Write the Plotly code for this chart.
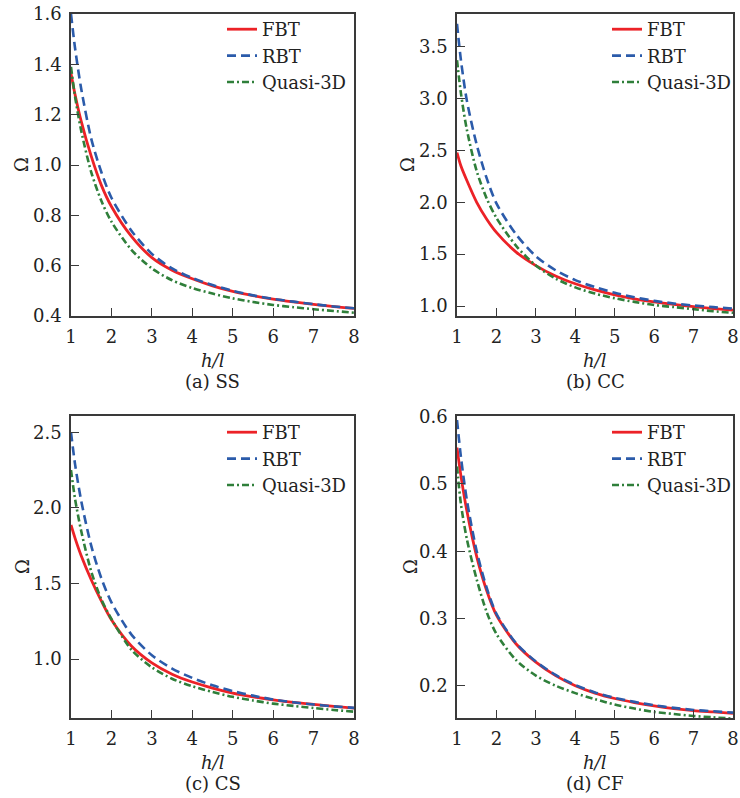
import plotly.graph_objects as go

# ---------------- data ----------------
x_hl = [1, 1.1, 1.25, 1.5, 1.75, 2, 2.5, 3, 3.5, 4, 4.5, 5, 5.5, 6, 6.5, 7, 7.5, 8]

a_fbt = [1.364, 1.28, 1.175, 1.035, 0.92, 0.835, 0.715, 0.632, 0.582, 0.548, 0.52, 0.498, 0.481, 0.467, 0.456, 0.446, 0.437, 0.43]
a_rbt = [1.60, 1.465, 1.305, 1.105, 0.972, 0.87, 0.738, 0.647, 0.589, 0.551, 0.523, 0.5, 0.482, 0.468, 0.457, 0.447, 0.438, 0.431]
a_q3d = [1.39, 1.272, 1.138, 0.972, 0.858, 0.775, 0.662, 0.589, 0.542, 0.511, 0.489, 0.47, 0.456, 0.444, 0.435, 0.427, 0.42, 0.413]

b_fbt = [2.48, 2.35, 2.21, 2.0, 1.84, 1.71, 1.52, 1.39, 1.29, 1.215, 1.155, 1.108, 1.07, 1.04, 1.015, 0.994, 0.976, 0.96]
b_rbt = [3.72, 3.37, 2.98, 2.555, 2.235, 1.99, 1.69, 1.48, 1.345, 1.25, 1.183, 1.127, 1.085, 1.05, 1.025, 1.005, 0.99, 0.975]
b_q3d = [3.37, 3.05, 2.7, 2.3, 2.04, 1.85, 1.58, 1.39, 1.265, 1.18, 1.12, 1.075, 1.04, 1.01, 0.99, 0.97, 0.95, 0.935]

c_fbt = [1.887, 1.80, 1.685, 1.525, 1.385, 1.26, 1.085, 0.975, 0.9, 0.848, 0.808, 0.775, 0.75, 0.73, 0.713, 0.70, 0.687, 0.675]
c_rbt = [2.5, 2.29, 2.05, 1.75, 1.535, 1.375, 1.16, 1.025, 0.937, 0.875, 0.826, 0.788, 0.758, 0.733, 0.714, 0.699, 0.687, 0.677]
c_q3d = [2.25, 2.06, 1.85, 1.58, 1.395, 1.265, 1.06, 0.945, 0.87, 0.82, 0.782, 0.75, 0.726, 0.705, 0.69, 0.676, 0.663, 0.652]

d_fbt = [0.554, 0.512, 0.46, 0.392, 0.342, 0.305, 0.262, 0.235, 0.215, 0.2, 0.189, 0.181, 0.175, 0.17, 0.166, 0.163, 0.161, 0.159]
d_rbt = [0.595, 0.54, 0.476, 0.4, 0.346, 0.307, 0.263, 0.236, 0.216, 0.201, 0.19, 0.182, 0.176, 0.171, 0.167, 0.164, 0.162, 0.16]
d_q3d = [0.526, 0.47, 0.418, 0.358, 0.31, 0.277, 0.238, 0.215, 0.2, 0.189, 0.18, 0.172, 0.166, 0.161, 0.158, 0.155, 0.153, 0.151]

series_names = ["FBT", "RBT", "Quasi-3D"]
panel_captions = ["(a) SS", "(b) CC", "(c) CS", "(d) CF"]
panel_data = [(a_fbt, a_rbt, a_q3d), (b_fbt, b_rbt, b_q3d),
              (c_fbt, c_rbt, c_q3d), (d_fbt, d_rbt, d_q3d)]
y_ranges = [[0.4, 1.6], [0.904, 3.815], [0.61, 2.608], [0.152, 0.601]]
y_ticks = [[0.4, 0.6, 0.8, 1.0, 1.2, 1.4, 1.6], [1.0, 1.5, 2.0, 2.5, 3.0, 3.5],
           [1.0, 1.5, 2.0, 2.5], [0.2, 0.3, 0.4, 0.5, 0.6]]
x_ticks = [1, 2, 3, 4, 5, 6, 7, 8]

# ---------------- layout geometry ----------------
W, H = 740, 798
FONT = "DejaVu Serif"
TXT = "#222"
colors = ["#EC2227", "#2B5BAA", "#2F7F3A"]
dashes = ["solid", "9px,5px", "7px,3px,2px,3px"]
widths = [2.8, 2.6, 2.6]

# panel boxes in page pixels: (left, right, top, bottom)
boxes = [(71, 354, 14, 316), (457, 733, 14, 316), (71, 354, 416, 718), (457, 733, 416, 718)]
legend_pos = [(222, 11), (607, 11), (222, 414), (607, 414)]
omega_x = [22, 408, 22, 410]

def px2x(p):
    return p / W

def py2y(p):
    return 1 - p / H

fig = go.Figure()
annotations = []
layout = dict(width=W, height=H, margin=dict(l=0, r=0, t=0, b=0, autoexpand=False),
              template="none",
              paper_bgcolor="white", plot_bgcolor="white",
              font=dict(family=FONT, size=18, color=TXT))

for i in range(4):
    sx = "" if i == 0 else str(i + 1)
    xa, ya = "x" + sx, "y" + sx
    lg = "legend" + sx
    for k in range(3):
        fig.add_trace(go.Scatter(
            x=x_hl, y=panel_data[i][k], mode="lines", name=series_names[k],
            line=dict(color=colors[k], width=widths[k], dash=dashes[k], shape="spline", smoothing=0.8),
            xaxis=xa, yaxis=ya, legend=lg, showlegend=True))
    l, r, t, b = boxes[i]
    axis_common = dict(showline=True, linecolor="#3a3a3a", linewidth=1.5, mirror=True,
                       ticks="inside", ticklen=8, tickwidth=1.3, tickcolor="#3a3a3a",
                       showgrid=False, zeroline=False, automargin=False,
                       ticklabeloverflow="allow",
                       tickfont=dict(family=FONT, size=18, color=TXT))
    layout["xaxis" + sx] = dict(domain=[px2x(l), px2x(r)], range=[1, 8], tickvals=x_ticks,
                                anchor=ya, ticklabelstandoff=4, **axis_common)
    layout["yaxis" + sx] = dict(domain=[py2y(b), py2y(t)], range=y_ranges[i], tickvals=y_ticks[i],
                                tickformat=".1f", anchor=xa, ticklabelstandoff=4, **axis_common)
    lx, ly = legend_pos[i]
    layout[lg] = dict(x=px2x(lx), y=py2y(ly), xanchor="left", yanchor="top",
                      bgcolor="rgba(0,0,0,0)", borderwidth=0,
                      font=dict(family=FONT, size=18, color=TXT))
    cx = (l + r) / 2
    ann_font = dict(family=FONT, size=18, color=TXT)
    annotations.append(dict(text="<i>h/l</i>", x=px2x(cx), y=py2y(b + 44), xref="paper", yref="paper",
                            xanchor="center", yanchor="middle", showarrow=False, font=ann_font))
    annotations.append(dict(text=panel_captions[i], x=px2x(cx), y=py2y(b + 65), xref="paper", yref="paper",
                            xanchor="center", yanchor="middle", showarrow=False, font=ann_font))
    annotations.append(dict(text="Ω", x=px2x(omega_x[i]), y=py2y((t + b) / 2), xref="paper", yref="paper",
                            xanchor="center", yanchor="middle", showarrow=False, textangle=-90, font=ann_font))

layout["annotations"] = annotations
fig.update_layout(**layout)
# remove the default 8px page margin so the 740x798 figure fills the window exactly
fig.write_html("out.html", config={"displayModeBar": False},
               post_script="document.body.style.margin='0';")
